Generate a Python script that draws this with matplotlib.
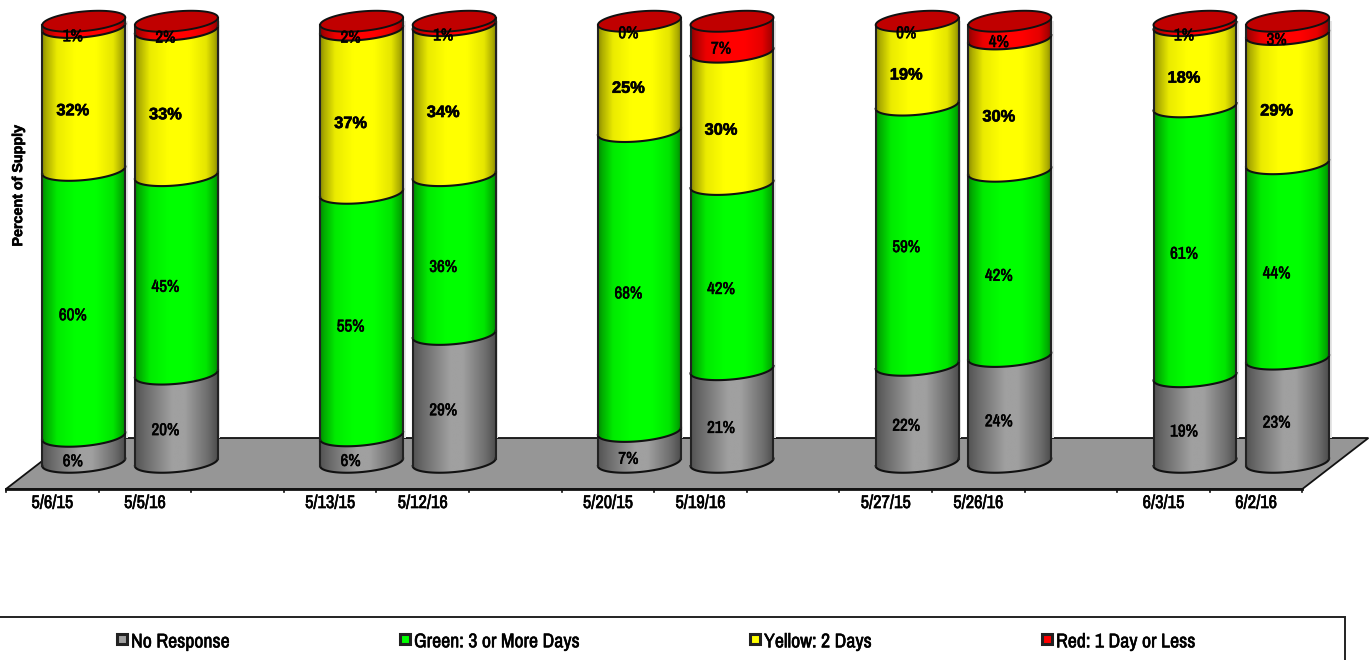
import numpy as np
import matplotlib
matplotlib.use("Agg")
import matplotlib.pyplot as plt
import matplotlib.patheffects as pe
from matplotlib import font_manager
from matplotlib.patches import Polygon, Rectangle

# data
dates = ["5/6/15", "5/5/16", "5/13/15", "5/12/16", "5/20/15", "5/19/16",
         "5/27/15", "5/26/16", "6/3/15", "6/2/16"]
slots = [0, 1, 3, 4, 6, 7, 9, 10, 12, 13]
no_response = [5.9, 20, 6, 29, 7, 21, 22, 24, 19.4, 23.4]
green = [60.3, 45, 55, 36, 68, 42, 59, 42, 61.2, 44.3]
yellow = [32.4, 33, 37, 34, 25, 30, 19, 30, 18.4, 29.3]
red = [1.4, 2, 2, 1, 0, 7, 0, 4, 1, 3]

series = [no_response, green, yellow, red]
names = ["No Response", "Green: 3 or More Days", "Yellow: 2 Days", "Red: 1 Day or Less"]
colors = ["#a0a0a0", "#00ff00", "#ffff00", "#ff0000"]
legend_px = [122, 405, 755, 1047]

plt.rcParams["text.hinting"] = "none"

# a condensed face if the machine has one, otherwise plain Liberation Sans a bit smaller
WIDE = ["Liberation Sans"]
installed = sorted({f.name for f in font_manager.fontManager.ttflist})
condensed = [n for n in installed if "narrow" in n.lower() or "condensed" in n.lower()]
if condensed:
    NARROW = [condensed[0], "Liberation Sans"]
    size_label, size_date, size_legend = 12.2, 13.2, 14.3
    # the narrow face comes out thin, thicken it with a small stroke
    thick = [pe.withStroke(linewidth=0.4, foreground="black")]
else:
    NARROW = WIDE
    size_label, size_date, size_legend = 10.2, 10.8, 11.2
    thick = []
thick_wide = [pe.withStroke(linewidth=0.45, foreground="black")]

# one slot = 92.6 px, one percent = 4.41 px, zero of the bars is y=466
XU = 92.6
YU = 4.41
W, H = 1370, 660


def dx(px):
    return px / XU


def dy(px):
    return px / YU


fig = plt.figure(figsize=(W / 100, H / 100), dpi=100)
ax = fig.add_axes([0, 0, 1, 1])

# floor
floor_front = dy(466 - 489)
floor_back = dy(466 - 438)
ax.add_patch(Polygon([(0, floor_front), (14, floor_front), (14 + dx(66), floor_back),
                      (dx(66), floor_back)], closed=True, fc="#969696", ec="#111111",
                     lw=1.3, zorder=1))
ax.plot([0, 14], [floor_front, floor_front], color="#111111", lw=2, zorder=2)
for i in range(15):
    ax.plot([i, i], [floor_front, floor_front - dy(3)], color="#111111", lw=1.2, zorder=2)

half = 0.448
s = dy(3.75)
b = dy(9.8)
t = np.linspace(0, np.pi, 60)
shade_x = np.linspace(0, 1, 200)
shade = np.interp(shade_x, [0, 0.05, 0.18, 0.4, 0.65, 0.86, 0.96, 1],
                  [0.55, 0.68, 0.92, 1, 1, 0.9, 0.68, 0.55])
# the grey one is a wider ramp
shade_grey = np.interp(shade_x, [0, 0.12, 0.45, 0.6, 0.88, 1], [0.52, 0.66, 1, 1, 0.68, 0.48])
shades = [shade_grey, shade, shade, shade]


def arc(cx, p):
    return cx + half * np.cos(t), p + s + s * np.cos(t) - b * np.sin(t)


z = 3
for i, slot in enumerate(slots):
    cx = slot + 0.5 + dx(31.5)
    ax.add_patch(Rectangle((cx + half, floor_back), dx(2.5), 100 + s - floor_back,
                           fc="#e6e6e6", ec="none", zorder=z))
    base = 0
    for vals, col, sh in zip(series, colors, shades):
        v = vals[i]
        top = base + v
        xl, yl = arc(cx, base)
        xu, yu = arc(cx, top)
        # front surface of this slice, lower arc then upper arc
        xs = np.concatenate([xl, xu[::-1]])
        ys = np.concatenate([yl, yu[::-1]])
        if v > 0:
            rgb = np.array(matplotlib.colors.to_rgb(col))
            grad = sh[None, :, None] * rgb[None, None, :]
            im = ax.imshow(grad, extent=[cx - half, cx + half, base - 5, top + 5],
                           aspect="auto", zorder=z + 0.1, interpolation="bilinear")
            clip = Polygon(np.column_stack([xs, ys]), closed=True, transform=ax.transData)
            im.set_clip_path(clip)
            ax.plot(xl, yl, color="#111111", lw=1.5, zorder=z + 0.2)
            ax.plot([cx - half, cx - half], [base, top], color="#222222", lw=1.5, zorder=z + 0.2)
            ax.plot([cx + half, cx + half], [base + 2 * s, top + 2 * s], color="#222222", lw=1.5,
                    zorder=z + 0.2)
        base = top
        z += 1
    # cap of the cylinder
    tt = np.linspace(0, 2 * np.pi, 120)
    ax.add_patch(Polygon(np.column_stack([cx + half * np.cos(tt),
                                          base + s + s * np.cos(tt) - b * np.sin(tt)]),
                         closed=True, fc="#c00000", ec="#111111", lw=1.4, zorder=z))
    z += 1

    # slice labels
    base = 0
    for k, vals in enumerate(series):
        v = vals[i]
        mid = base + v / 2 - dy(8.5)
        big = k == 2
        ax.text(cx - dx(11), mid, f"{v:.0f}%", ha="center", va="center", fontweight="bold",
                fontsize=11.8 if big else size_label, family=WIDE if big else NARROW,
                color="black", zorder=500, path_effects=thick_wide if big else thick)
        base += v

    ax.text(slot + 0.5, dy(466 - 503), dates[i], ha="center", va="center", fontweight="bold",
            fontsize=size_date, family=NARROW, color="black", zorder=500, path_effects=thick)

ax.text(dx(18.5 - 6), dy(466 - 186), "Percent of Supply", rotation=90, ha="center", va="center",
        fontweight="bold", fontsize=10.3, family=WIDE, color="black", path_effects=thick_wide)

# legend box
ax.add_patch(Rectangle((dx(-20 - 6), dy(466 - 700)), dx(1345 + 20), dy(700 - 617), fc="white",
                       ec="#222222", lw=1.4, zorder=600))
for name, col, px in zip(names, colors, legend_px):
    ax.add_patch(Rectangle((dx(px - 5 - 6), dy(466 - 644)), dx(10), dy(10), fc=col,
                           ec="#222222", lw=2.2, zorder=601))
    ax.text(dx(px + 9 - 6), dy(466 - 642), name, ha="left", va="center", fontweight="bold",
            fontsize=size_legend, family=NARROW, color="black", zorder=601, path_effects=thick)

ax.set_xlim(dx(-6), dx(W - 6))
ax.set_ylim(dy(466 - H), dy(466))
ax.axis("off")
fig.savefig("out.png", dpi=100)
